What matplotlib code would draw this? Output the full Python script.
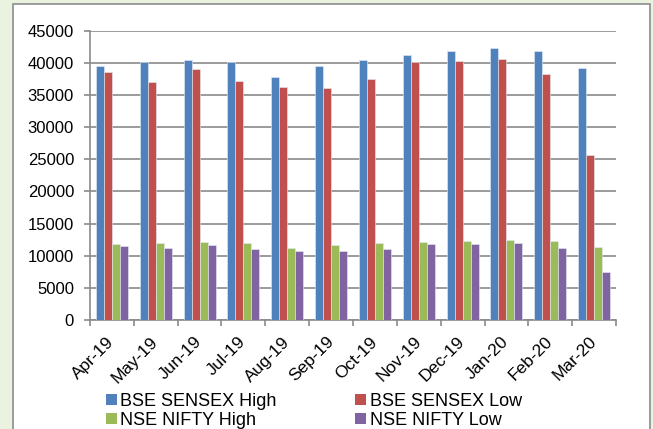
import numpy as np
import matplotlib
matplotlib.use('Agg')
import matplotlib.pyplot as plt
from matplotlib.patches import Rectangle, Patch

plt.rcParams['font.family'] = ['Liberation Sans', 'DejaVu Sans']

# data
months = ['Apr-19', 'May-19', 'Jun-19', 'Jul-19', 'Aug-19', 'Sep-19',
          'Oct-19', 'Nov-19', 'Dec-19', 'Jan-20', 'Feb-20', 'Mar-20']
bse_high = [39550, 40180, 40380, 40120, 37840, 39500,
            40430, 41210, 41830, 42300, 41780, 39140]
bse_low = [38570, 37000, 38980, 37170, 36180, 36030,
           37480, 40070, 40230, 40540, 38310, 25660]
nse_high = [11820, 12030, 12130, 12030, 11200, 11660,
            11920, 12130, 12290, 12440, 12290, 11410]
nse_low = [11560, 11150, 11660, 11040, 10680, 10730,
           11040, 11770, 11820, 11920, 11200, 7470]

series = [('BSE SENSEX High', bse_high, '#4f81bd'),
          ('BSE SENSEX Low', bse_low, '#c0504d'),
          ('NSE NIFTY High', nse_high, '#9bbb59'),
          ('NSE NIFTY Low', nse_low, '#8064a2')]

W, H = 653, 429
fig = plt.figure(figsize=(W / 100, H / 100), dpi=100, facecolor='#eaf3e0')

# white chart frame
fig.patches.append(Rectangle((13 / W, -0.1), (650 - 13) / W, 1.1 - 4 / H,
                             transform=fig.transFigure, facecolor='white',
                             edgecolor='#8c8c8c', linewidth=1.2, zorder=-10))

ax = fig.add_axes([90 / W, 1 - 320 / H, 526 / W, (320 - 30.7) / H])
ax.set_facecolor('none')

x = np.arange(len(months))
bw = 8 / 43.83
for i, (name, vals, col) in enumerate(series):
    ax.bar(x + (i - 1.5) * bw, vals, width=bw, color=col,
           edgecolor='#e6ecf5', linewidth=0.4, zorder=3, label=name)

ax.set_xlim(-0.5, len(months) - 0.5)
ax.set_ylim(0, 45000)
ax.set_yticks(np.arange(0, 45001, 5000))
ax.yaxis.grid(True, color='#8a8a8a', linewidth=1.2, zorder=1)
ax.set_axisbelow(True)

for s in ['top', 'right']:
    ax.spines[s].set_visible(False)
for s in ['left', 'bottom']:
    ax.spines[s].set_color('#8a8a8a')
    ax.spines[s].set_linewidth(1.2)

ax.set_xticks(x)
ax.set_xticklabels(months, rotation=45, ha='right', va='center',
                   rotation_mode='anchor', fontsize=12.5)
ax.set_xticks(np.arange(-0.5, len(months)), minor=True)
ax.tick_params(axis='x', which='major', length=0, pad=14)
ax.tick_params(axis='x', which='minor', length=4.5, width=1.2, color='#8a8a8a')
ax.tick_params(axis='y', length=4.5, width=1.2, color='#8a8a8a',
               labelsize=12, pad=7)

handles = [Patch(facecolor=c) for _, _, c in series]
names = [n for n, _, _ in series]
order = [0, 2, 1, 3]
fig.legend([handles[i] for i in order], [names[i] for i in order],
           ncol=2, loc='upper left', bbox_to_anchor=(106 / W, 1 - 393 / H),
           frameon=False, fontsize=13, borderpad=0, borderaxespad=0,
           handlelength=0.6, handleheight=0.6, handletextpad=0.2,
           columnspacing=4.35, labelspacing=0.1)

fig.savefig('out.png', dpi=100, facecolor=fig.get_facecolor())
